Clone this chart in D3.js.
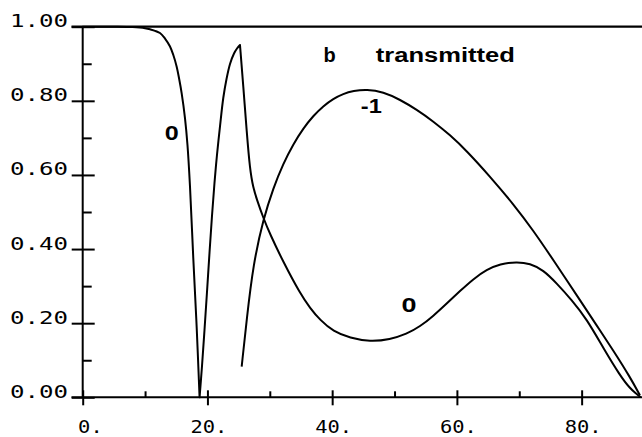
<!DOCTYPE html>
<html><head><meta charset="utf-8">
<script src="https://cdn.jsdelivr.net/npm/d3@7"></script>
<style>html,body{margin:0;padding:0;background:#fff;} svg{display:block}</style>
</head><body>
<svg id="c" width="642" height="437"></svg>
<script>
// ---- data ----
// zeroth-order transmitted efficiency vs angle
const angle0 = [0, 5, 8, 10.0, 10.79, 12.39, 13.20, 14.00, 14.53, 15.07, 15.47, 15.87, 16.40, 16.80, 17.20, 17.73, 18.28, 18.74,
  19.13, 19.53, 19.93, 20.33, 20.73, 21.13, 21.53, 22.02, 22.54, 23.06, 23.62, 24.26, 24.74, 25.22,
  25.75, 26.30, 26.82, 27.35, 27.90, 28.96, 30.03, 32.16, 34.84, 36.45, 38.05, 40.18, 42.86, 46.07, 49.27, 51.95,
  54.08, 56.22, 58.36, 60.50, 62.63, 64.78, 66.91, 69.59, 71.72, 73.85, 76.00, 78.41, 80.81, 83.47, 86.15, 87.76, 88.83, 89.36];
const trans0 = [1.0, 1.0, 0.999, 0.996, 0.993, 0.9830, 0.9681, 0.9466, 0.9236, 0.8921, 0.8589, 0.8203, 0.7536, 0.6808, 0.5702, 0.3759, 0.1870, 0.0,
  0.0845, 0.1816, 0.2841, 0.3894, 0.4892, 0.5782, 0.6538, 0.7320, 0.8076, 0.8589, 0.8994, 0.9277, 0.9412, 0.9506,
  0.8400, 0.7159, 0.6133, 0.5648, 0.5351, 0.4838, 0.4406, 0.3651, 0.2806, 0.2410, 0.2086, 0.1776, 0.1600, 0.1500, 0.1560, 0.1708,
  0.1910, 0.2194, 0.2531, 0.2868, 0.3192, 0.3448, 0.3597, 0.3659, 0.3610, 0.3435, 0.3076, 0.2625, 0.2113, 0.1330, 0.0588, 0.0237, 0.0089, 0.0013];
const cusps0 = [18.74, 25.22];   // sharp minimum and sharp maximum of the order-0 curve
// minus-first-order transmitted efficiency vs angle
const angleM1 = [25.49, 26.30, 27.35, 28.96, 30.56, 32.16, 33.77, 35.37, 36.97, 38.58, 40.18, 41.78, 43.39, 45.54, 48.20, 50.88, 53.55, 56.22, 58.89,
  61.57, 65.31, 69.04, 72.25, 75.46, 79.73, 82.41, 85.08, 87.75, 89.35];
const transM1 = [0.0826, 0.2113, 0.3597, 0.4811, 0.5648, 0.6309, 0.6835, 0.7258, 0.7596, 0.7860, 0.8057, 0.8192, 0.8268, 0.8311, 0.8238, 0.8033, 0.7763, 0.7445, 0.7078,
  0.6651, 0.5958, 0.5216, 0.4501, 0.3705, 0.2625, 0.1940, 0.1263, 0.0548, 0.0054];
const xMajor = [0, 20, 40, 60, 80];
const xMajorLabels = ["0.", "20.", "40.", "60.", "80."];
const xMinor = [10, 30, 50, 70];
const yMajor = [0, 0.2, 0.4, 0.6, 0.8, 1.0];
const yMajorLabels = ["0.00", "0.20", "0.40", "0.60", "0.80", "1.00"];
const yMinor = [0.1, 0.3, 0.5, 0.7, 0.9];
const orderLabels = ["0", "0", "-1"];
const titleLabels = ["b", "transmitted"];

// ---- layout ----
const svg = d3.select("#c");
const x = d3.scaleLinear().domain([0, 90]).range([82.7, 644]);
const y = d3.scaleLinear().domain([0, 1]).range([397.3, 26.7]);
const ink = "#000";

// axis lines
svg.append("line").attr("x1", 71.5).attr("x2", 642).attr("y1", y(0)).attr("y2", y(0))
  .attr("stroke", ink).attr("stroke-width", 2);
svg.append("line").attr("x1", 71.5).attr("x2", 642).attr("y1", y(1)).attr("y2", y(1))
  .attr("stroke", ink).attr("stroke-width", 2.2);
svg.append("line").attr("x1", x(0)).attr("x2", x(0)).attr("y1", y(1)).attr("y2", y(0))
  .attr("stroke", ink).attr("stroke-width", 2);

function styleAxis(g) {
  g.select(".domain").remove();
  g.selectAll(".tick line").attr("stroke", ink).attr("stroke-width", 2);
  g.selectAll(".tick text").remove();
}
svg.append("g").attr("transform", `translate(0,${y(0)})`)
  .call(d3.axisBottom(x).tickValues(xMajor).tickSize(8).tickSizeOuter(0).tickFormat("")).call(styleAxis);
svg.append("g").attr("transform", `translate(0,${y(0)})`)
  .call(d3.axisTop(x).tickValues(xMajor).tickSize(7).tickSizeOuter(0).tickFormat("")).call(styleAxis);
svg.append("g").attr("transform", `translate(0,${y(0)})`)
  .call(d3.axisTop(x).tickValues(xMinor).tickSize(6).tickSizeOuter(0).tickFormat("")).call(styleAxis);
svg.append("g").attr("transform", `translate(${x(0)},0)`)
  .call(d3.axisLeft(y).tickValues(yMajor).tickSize(11).tickSizeOuter(0).tickFormat("")).call(styleAxis);
svg.append("g").attr("transform", `translate(${x(0)},0)`)
  .call(d3.axisRight(y).tickValues(yMajor).tickSize(12).tickSizeOuter(0).tickFormat("")).call(styleAxis);
svg.append("g").attr("transform", `translate(${x(0)},0)`)
  .call(d3.axisRight(y).tickValues(yMinor).tickSize(9).tickSizeOuter(0).tickFormat("")).call(styleAxis);

// tick labels
const monoFont = "'DejaVu Sans Mono', 'Liberation Mono', monospace";
svg.append("g").selectAll("text").data(yMajor).join("text")
  .attr("x", 10).attr("y", d => y(d) + 0.5)
  .attr("textLength", 58).attr("lengthAdjust", "spacingAndGlyphs")
  .attr("font-family", monoFont).attr("font-size", 18).attr("fill", ink)
  .text((d, i) => yMajorLabels[i]);
svg.append("g").selectAll("text").data(xMajor).join("text")
  .attr("x", (d, i) => x(d) + 20 - xMajorLabels[i].length * 12.3).attr("y", 432.5)
  .attr("textLength", (d, i) => xMajorLabels[i].length * 12.3).attr("lengthAdjust", "spacingAndGlyphs")
  .attr("font-family", monoFont).attr("font-size", 17).attr("fill", ink)
  .text((d, i) => xMajorLabels[i]);

// curves
const lineSharp = d3.line().x(d => x(d[0])).y(d => y(d[1])).curve(d3.curveCatmullRom.alpha(0.5));
const lineSmooth = d3.line().x(d => x(d[0])).y(d => y(d[1])).curve(d3.curveBasis);
const pts0 = angle0.map((a, i) => [a, trans0[i]]);
const bounds = [-Infinity, ...cusps0, Infinity];
let d0 = "";
for (let k = 0; k < bounds.length - 1; k++) {
  const seg = pts0.filter(p => p[0] >= bounds[k] && p[0] <= bounds[k + 1]);
  d0 += (k < 2 ? lineSharp : lineSmooth)(seg);
}
svg.append("path").attr("d", d0).attr("fill", "none").attr("stroke", ink)
  .attr("stroke-width", 2).attr("stroke-linejoin", "round").attr("stroke-linecap", "round");
svg.append("path").datum(angleM1.map((a, i) => [a, transM1[i]]))
  .attr("d", lineSmooth).attr("fill", "none").attr("stroke", ink).attr("stroke-width", 2);

// annotations
const sans = "'Liberation Sans', Arial, Helvetica, sans-serif";
const ann = [
  {t: orderLabels[0], ax: 13.15, ay: 0.694, w: 14},
  {t: orderLabels[1], ax: 51.1, ay: 0.231, w: 15},
  {t: orderLabels[2], ax: 44.6, ay: 0.766, w: 21},
  {t: titleLabels[0], ax: 38.6, ay: 0.906, w: 0},
  {t: titleLabels[1], ax: 47.0, ay: 0.906, w: 139}
];
svg.append("g").selectAll("text").data(ann).join("text")
  .attr("x", d => x(d.ax)).attr("y", d => y(d.ay))
  .attr("textLength", d => d.w || null).attr("lengthAdjust", d => d.w ? "spacingAndGlyphs" : null)
  .attr("font-family", sans).attr("font-weight", "bold").attr("font-size", 20).attr("fill", ink)
  .text(d => d.t);
</script>
</body></html>
